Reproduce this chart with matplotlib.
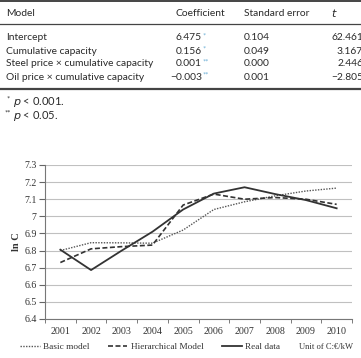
import matplotlib
matplotlib.use("Agg")
import matplotlib.pyplot as plt
from matplotlib.lines import Line2D

# table data
row_names = ["Intercept", "Cumulative capacity",
             "Steel price \u00d7 cumulative capacity",
             "Oil price \u00d7 cumulative capacity"]
coefs = ["6.475", "0.156", "0.001", "\u22120.003"]
stars = ["*", "*", "**", "**"]
std_errs = ["0.104", "0.049", "0.000", "0.001"]
t_vals = ["62.461", "3.167", "2.446", "\u22122.805"]

# chart data
years = [2001, 2002, 2003, 2004, 2005, 2006, 2007, 2008, 2009, 2010]
basic = [6.80, 6.846, 6.845, 6.843, 6.92, 7.04, 7.085, 7.12, 7.148, 7.165]
hier = [6.73, 6.81, 6.823, 6.832, 7.066, 7.13, 7.10, 7.11, 7.10, 7.07]
real = [6.805, 6.686, 6.80, 6.91, 7.04, 7.133, 7.17, 7.13, 7.095, 7.047]

W, H = 361, 358
fig = plt.figure(figsize=(W / 100, H / 100), dpi=100)

# --- table part, drawn in pixel coordinates ---
tab = fig.add_axes([0, 0, 1, 1])
tab.set_xlim(0, W)
tab.set_ylim(H, 0)
tab.axis("off")

tfont = dict(family="Lato", size=7.4, color="#2a2a2a")
star_col = "#6aaed6"

tab.plot([0, W], [0.8, 0.8], color="#444444", lw=1.4)
tab.plot([0, W], [24, 24], color="#444444", lw=0.9)
tab.plot([0, W], [88.5, 88.5], color="#444444", lw=1.6)

tab.text(6, 13, "Model", va="center", **tfont)
tab.text(176, 13, "Coefficient", va="center", **tfont)
tab.text(244, 13, "Standard error", va="center", **tfont)
tab.text(331, 13, "$t$", va="center", family="Lato", size=8, color="#2a2a2a")

row_y = [38, 51, 64, 77]
for y, name, c, s, se, t in zip(row_y, row_names, coefs, stars, std_errs, t_vals):
    tab.text(6, y, name, va="center", **tfont)
    tab.text(202, y, c, va="center", ha="right", **tfont)
    tab.text(203, y - 2, s, va="center", ha="left", family="Lato",
             size=5.5, color=star_col)
    tab.text(244, y, se, va="center", **tfont)
    tab.text(363, y, t, va="center", ha="right", **tfont)

tab.text(7, 99.5, "*", va="center", family="Lato", size=5.5, color="#333333")
tab.text(13, 102, "$p$ < 0.001.", va="center", family="Lato", size=8, color="#2a2a2a")
tab.text(5, 113.5, "**", va="center", family="Lato", size=5.5, color="#333333")
tab.text(13, 116, "$p$ < 0.05.", va="center", family="Lato", size=8, color="#2a2a2a")

# --- line chart ---
ax = fig.add_axes([45 / W, 1 - 319 / H, 307 / W, 154 / H])
x = list(range(len(years)))
ax.plot(x, basic, color="#555555", lw=1.0, ls=(0, (1, 1)), label="Basic model")
ax.plot(x, hier, color="#333333", lw=1.2, ls=(0, (3, 1.5)), label="Hierarchical Model")
ax.plot(x, real, color="#333333", lw=1.3, label="Real data")

ax.set_xlim(-0.5, len(years) - 0.5)
ax.set_ylim(6.4, 7.3)
yt = [6.4, 6.5, 6.6, 6.7, 6.8, 6.9, 7.0, 7.1, 7.2, 7.3]
ax.set_yticks(yt)
ax.set_yticklabels(["6.4", "6.5", "6.6", "6.7", "6.8", "6.9", "7", "7.1", "7.2", "7.3"])
ax.set_xticks(x)
ax.set_xticklabels([str(y) for y in years])
ax.set_xticks([i - 0.5 for i in range(len(years) + 1)], minor=True)
ax.tick_params(axis="x", which="major", length=0, pad=6)
ax.tick_params(axis="x", which="minor", length=3, color="#666666", direction="out")
ax.tick_params(axis="y", length=4, color="#666666", pad=2)
for lab in ax.get_xticklabels() + ax.get_yticklabels():
    lab.set_family("Liberation Serif")
    lab.set_fontsize(7.2)
    lab.set_color("#333333")
ax.grid(axis="y", color="#c0c0c0", lw=0.8)
ax.set_axisbelow(True)
for sp in ["top", "right"]:
    ax.spines[sp].set_visible(False)
ax.spines["left"].set_color("#777777")
ax.spines["bottom"].set_color("#777777")
ax.spines["left"].set_linewidth(0.8)
ax.spines["bottom"].set_linewidth(0.8)

ax.set_ylabel("ln C", family="Liberation Serif", fontsize=7.5,
              fontweight="bold", color="#333333", labelpad=2)

handles = [
    Line2D([], [], color="#555555", lw=1.0, ls=(0, (1, 1))),
    Line2D([], [], color="#333333", lw=1.2, ls=(0, (3, 1.5))),
    Line2D([], [], color="#333333", lw=1.3),
]
leg = fig.legend(handles, ["Basic model", "Hierarchical Model", "Real data"],
                 loc="center left", bbox_to_anchor=(20 / W, 1 - 347 / H),
                 ncol=3, frameon=False, handlelength=2.1, handletextpad=0.35,
                 columnspacing=2.0, borderpad=0, borderaxespad=0,
                 prop={"family": "Liberation Serif", "size": 6.7})
for txt in leg.get_texts():
    txt.set_color("#333333")
fig.text(353 / W, 1 - 347 / H, "Unit of C:\u20ac/kW", va="center", ha="right",
         family="Liberation Serif", fontsize=6.1, color="#333333")

fig.savefig("out.png", dpi=100)
